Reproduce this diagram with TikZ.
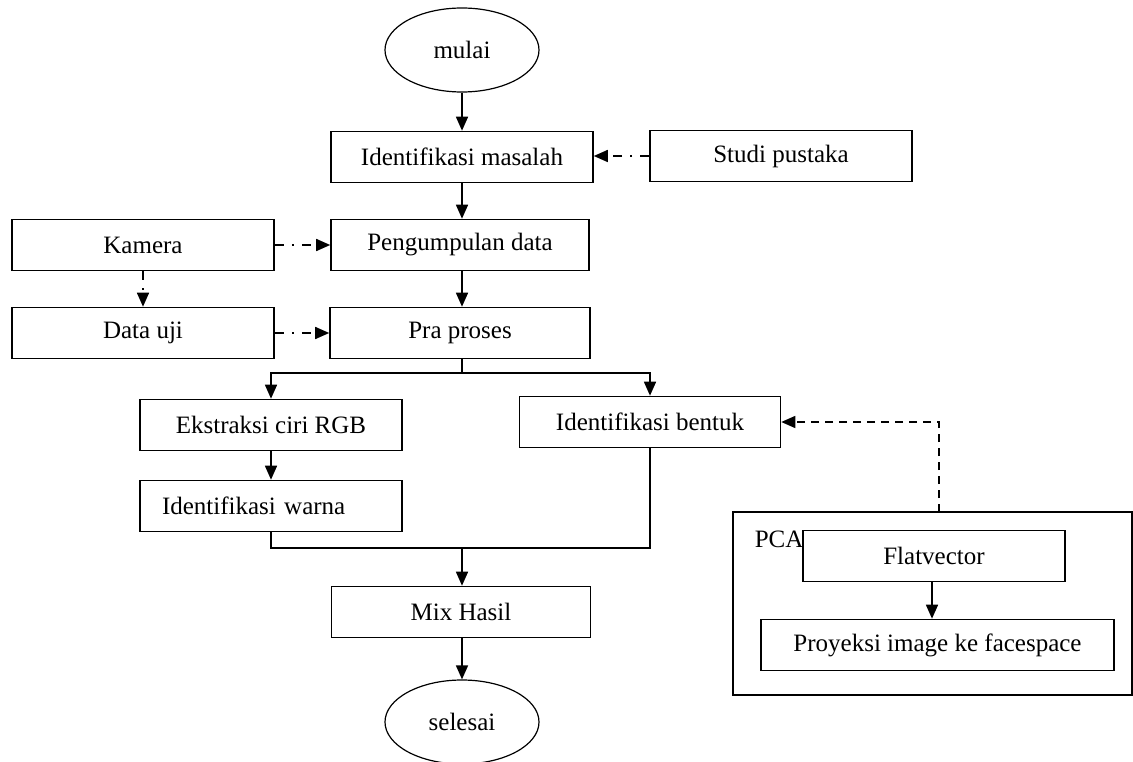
\documentclass[tikz,border=0pt]{standalone}
\usepackage{fontspec}
\setmainfont{Liberation Serif}
\usetikzlibrary{arrows.meta,shapes.geometric}
\tikzset{box/.style={draw,rectangle,minimum width=262pt,minimum height=51pt,inner sep=0pt},
	terminal/.style={draw,ellipse,minimum width=154pt,minimum height=84pt,inner sep=0pt,line width=1.2pt},
	flow/.style={-{Triangle[length=14pt,width=12pt]}},
	dashdot flow/.style={flow,dash pattern=on 9pt off 8pt on 2pt off 8pt},
	dashed flow/.style={flow,dash pattern=on 8pt off 6pt}}

\begin{document}
\begin{tikzpicture}
	[x=1pt,y=-1pt,line width=1.6pt,
	every node/.style={font=\fontsize{25}{30}\selectfont}]
	\useasboundingbox (0,0) rectangle (1133,762);

	% alur utama
	\node [terminal] (mulai) at (462,50) {mulai};
	\node [box] (masalah) at (462,157) {Identifikasi masalah};
	\node [box] (studi) at (781,156) {Studi pustaka};
	\node [box,minimum width=258pt] (kumpul) at (460,245) {Pengumpulan data};
	\node [box] (kamera) at (143,245) {Kamera};
	\node [box] (datauji) at (143,333) {Data uji};
	\node [box,minimum width=260pt] (praproses) at (460,333) {Pra proses};
	\node [box] (ekstraksi) at (271,425) {Ekstraksi ciri RGB};
	\node [box,minimum width=261pt] (bentuk) at (650,422) {Identifikasi bentuk};
	\node [box,text width=218pt,inner xsep=22pt,align=left] (warna) at (271,506) {Identifikasi warna};
	\node [box,minimum width=259pt] (mix) at (461,612) {Mix Hasil};
	\node [terminal] (selesai) at (462,722) {selesai};

	% blok PCA
	\node [draw,rectangle,minimum width=399pt,minimum height=183pt,inner sep=0pt] (pca) at (932.5,603.5) {};
	\node [anchor=base west,inner sep=0pt] (pcalabel) at (754,547) {PCA};
	\node [box] (flat) at (934,556) {Flatvector};
	\node [box,minimum width=353pt] (proyeksi) at (937.5,645) {Proyeksi image ke facespace};

	\coordinate (split) at (462,373);
	\coordinate (gabung) at (462,548);
	\coordinate (pcatop) at (939,512);

	% panah
	\draw [flow] (mulai) -- (masalah);
	\draw [flow] (masalah) -- (kumpul.north -| masalah.south);
	\draw [flow] (kumpul.south -| masalah.south) -- (praproses.north -| masalah.south);
	\draw [dashdot flow] (studi.west) -- (studi.west -| masalah.east);
	\draw [dashdot flow] (kamera.east) -- (kumpul.west);
	\draw [dashdot flow] (kamera.south) -- (datauji.north);
	\draw [dashdot flow] (datauji.east) -- (praproses.west);
	\draw (praproses.south -| split) -- (split);
	\draw [flow] (split) -| (ekstraksi.north);
	\draw [flow] (split) -| (bentuk.north);
	\draw [flow] (ekstraksi) -- (warna);
	\draw (warna.south) |- (bentuk.south |- gabung) -- (bentuk.south);
	\draw [flow] (gabung) -- (mix.north -| gabung);
	\draw [flow] (mix.south -| selesai.north) -- (selesai.north);
	\draw [flow] (flat.south -| 932,0) -- (proyeksi.north -| 932,0);
	\draw [dashed flow] (pcatop) |- (bentuk.east);
\end{tikzpicture}
\end{document}
